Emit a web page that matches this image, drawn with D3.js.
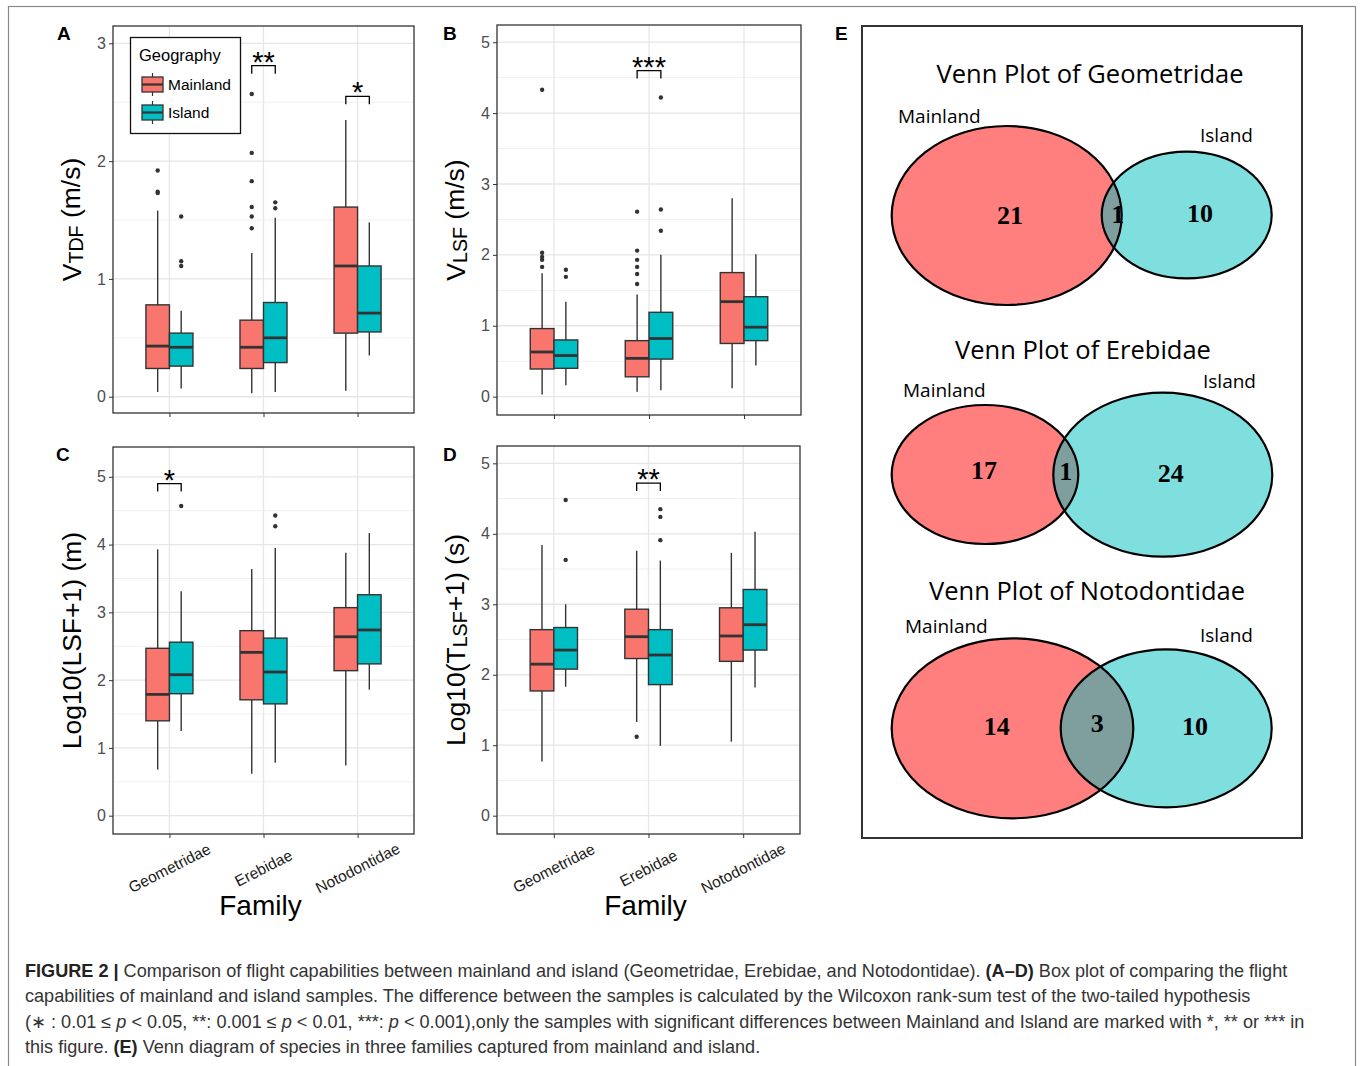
<!DOCTYPE html>
<html>
<head>
<meta charset="utf-8">
<script src="https://cdn.jsdelivr.net/npm/d3@7"></script>
<style>
  body { margin: 0; background: #fff; }
</style>
</head>
<body>
<svg id="fig" width="1360" height="1066" font-family="Liberation Sans, Arial, sans-serif"></svg>
<script>
var families = ["Geometridae", "Erebidae", "Notodontidae"];
var groups = ["Mainland", "Island"];
var groupColors = ["#F8766D", "#00BFC4"];

// box stats per family: [lower whisker, q1, median, q3, upper whisker]
var vtdfMainland = [[0.04, 0.24, 0.43, 0.78, 1.58], [0.03, 0.24, 0.42, 0.65, 1.22], [0.05, 0.54, 1.11, 1.61, 2.35]];
var vtdfIsland = [[0.07, 0.26, 0.42, 0.54, 0.73], [0.04, 0.29, 0.50, 0.80, 1.52], [0.35, 0.55, 0.71, 1.11, 1.48]];
var vtdfOutMainland = [[1.92, 1.74, 1.73], [2.57, 2.07, 1.83, 1.61, 1.53, 1.43], []];
var vtdfOutIsland = [[1.53, 1.15, 1.11], [1.65, 1.60], []];
var vtdfSig = [{family: "Erebidae", y: 2.81, label: "**"}, {family: "Notodontidae", y: 2.55, label: "*"}];

var vlsfMainland = [[0.03, 0.39, 0.63, 0.96, 1.74], [0.07, 0.28, 0.54, 0.79, 1.44], [0.12, 0.75, 1.34, 1.75, 2.80]];
var vlsfIsland = [[0.16, 0.40, 0.58, 0.80, 1.34], [0.09, 0.53, 0.82, 1.19, 2.00], [0.44, 0.79, 0.98, 1.41, 2.01]];
var vlsfOutMainland = [[4.33, 2.03, 1.97, 1.93, 1.83], [2.61, 2.06, 1.93, 1.83, 1.73, 1.59], []];
var vlsfOutIsland = [[1.79, 1.69], [4.22, 2.64, 2.34], []];
var vlsfSig = [{family: "Erebidae", y: 4.60, label: "***"}];

var lsfMainland = [[0.68, 1.40, 1.79, 2.47, 3.93], [0.62, 1.71, 2.41, 2.73, 3.64], [0.74, 2.14, 2.64, 3.07, 3.88]];
var lsfIsland = [[1.25, 1.80, 2.08, 2.56, 3.31], [0.78, 1.65, 2.12, 2.62, 3.95], [1.86, 2.24, 2.74, 3.26, 4.17]];
var lsfOutMainland = [[], [], []];
var lsfOutIsland = [[4.57], [4.43, 4.27], []];
var lsfSig = [{family: "Geometridae", y: 4.90, label: "*"}];

var tlsfMainland = [[0.77, 1.77, 2.15, 2.64, 3.84], [1.33, 2.23, 2.54, 2.93, 3.76], [1.05, 2.19, 2.55, 2.95, 3.73]];
var tlsfIsland = [[1.83, 2.08, 2.35, 2.67, 3.00], [0.99, 1.86, 2.28, 2.64, 3.62], [1.82, 2.35, 2.71, 3.21, 4.03]];
var tlsfOutMainland = [[], [1.12], []];
var tlsfOutIsland = [[4.48, 3.63], [4.35, 4.24, 3.91], []];
var tlsfSig = [{family: "Erebidae", y: 4.72, label: "**"}];

var vennTitles = ["Venn Plot of Geometridae", "Venn Plot of Erebidae", "Venn Plot of Notodontidae"];
var vennMainland = [21, 17, 14];
var vennShared = [1, 1, 3];
var vennIsland = [10, 24, 10];

var svg = d3.select("#fig");

// outer frame
svg.append("rect").attr("x", 8.5).attr("y", 6.5).attr("width", 1347).attr("height", 1100)
  .attr("fill", "none").attr("stroke", "#8a8a8a").attr("stroke-width", 1.2);

var panels = [
  {letter: "A", lx: 57, ly: 40, left: 113, right: 414, top: 26, bottom: 413, yDomain: [-0.138, 3.147], ticks: [0, 1, 2, 3],
   main: vtdfMainland, isl: vtdfIsland, outM: vtdfOutMainland, outI: vtdfOutIsland, sig: vtdfSig,
   title: ["V", "TDF", " (m/s)"], xlabels: false, legend: true},
  {letter: "B", lx: 443, ly: 40, left: 497, right: 801, top: 25, bottom: 415, yDomain: [-0.259, 5.243], ticks: [0, 1, 2, 3, 4, 5],
   main: vlsfMainland, isl: vlsfIsland, outM: vlsfOutMainland, outI: vlsfOutIsland, sig: vlsfSig,
   title: ["V", "LSF", " (m/s)"], xlabels: false},
  {letter: "C", lx: 56, ly: 461, left: 113, right: 414, top: 447, bottom: 834, yDomain: [-0.27, 5.44], ticks: [0, 1, 2, 3, 4, 5],
   main: lsfMainland, isl: lsfIsland, outM: lsfOutMainland, outI: lsfOutIsland, sig: lsfSig,
   title: ["Log10(LSF+1) (m)"], xlabels: true},
  {letter: "D", lx: 443, ly: 461, left: 497, right: 800, top: 446, bottom: 834, yDomain: [-0.26, 5.246], ticks: [0, 1, 2, 3, 4, 5],
   main: tlsfMainland, isl: tlsfIsland, outM: tlsfOutMainland, outI: tlsfOutIsland, sig: tlsfSig,
   title: ["Log10(T", "LSF", "+1) (s)"], xlabels: true}
];

panels.forEach(drawBoxPanel);

function drawBoxPanel(p) {
  var x = d3.scalePoint().domain(families).range([p.left, p.right]).padding(0.6);
  var y = d3.scaleLinear().domain(p.yDomain).range([p.bottom, p.top]);
  var step = x.step();
  var g = svg.append("g");

  g.append("text").attr("x", p.lx).attr("y", p.ly).attr("font-size", 19).attr("font-weight", "bold").text(p.letter);

  // grid
  var minor = p.ticks.map(function(t) { return t + 0.5; }).filter(function(t) { return t < p.yDomain[1]; });
  g.selectAll(".minor").data(minor).enter().append("line")
    .attr("x1", p.left).attr("x2", p.right).attr("y1", y).attr("y2", y)
    .attr("stroke", "#f0f0f0").attr("stroke-width", 1);
  g.selectAll(".major").data(p.ticks).enter().append("line")
    .attr("x1", p.left).attr("x2", p.right).attr("y1", y).attr("y2", y)
    .attr("stroke", "#e6e6e6").attr("stroke-width", 1.3);
  g.selectAll(".vgrid").data(families).enter().append("line")
    .attr("x1", x).attr("x2", x).attr("y1", p.top).attr("y2", p.bottom)
    .attr("stroke", "#e6e6e6").attr("stroke-width", 1.3);

  // axes
  var ya = g.append("g").attr("transform", "translate(" + p.left + ",0)")
    .call(d3.axisLeft(y).tickValues(p.ticks).tickFormat(d3.format("d")).tickSize(4).tickPadding(3));
  ya.select(".domain").remove();
  ya.selectAll("line").attr("stroke", "#333");
  ya.selectAll("text").attr("fill", "#4d4d4d").attr("font-size", 16).attr("font-family", "Liberation Sans, Arial, sans-serif");

  var xa = g.append("g").attr("transform", "translate(0," + p.bottom + ")")
    .call(d3.axisBottom(x).tickSize(4).tickFormat(""));
  xa.select(".domain").remove();
  xa.selectAll("line").attr("stroke", "#333");

  if (p.xlabels) {
    g.selectAll(".xl").data(families).enter().append("text")
      .attr("transform", function(d) { return "translate(" + x(d) + "," + (p.bottom + 34) + ") rotate(-27)"; })
      .attr("text-anchor", "middle").attr("dominant-baseline", "central")
      .attr("font-size", 15.5).attr("fill", "#1a1a1a").text(function(d) { return d; });
    g.append("text").attr("x", (p.left + p.right) / 2 - 3).attr("y", 915)
      .attr("text-anchor", "middle").attr("font-size", 28).text("Family");
  }

  // y title
  var t = g.append("text").attr("transform", "translate(" + (p.left - 32) + "," + ((p.top + p.bottom) / 2) + ") rotate(-90)")
    .attr("text-anchor", "middle").attr("font-size", 26.5);
  if (p.title.length === 1) {
    t.text(p.title[0]);
  } else {
    t.append("tspan").text(p.title[0]);
    t.append("tspan").attr("font-size", "0.74em").attr("dy", "0.1em").text(p.title[1]);
    t.append("tspan").attr("dy", "-0.1em").text(p.title[2]);
  }

  // boxes
  var half = 0.125 * step;
  [p.main, p.isl].forEach(function(stats, j) {
    var outs = j === 0 ? p.outM : p.outI;
    families.forEach(function(f, i) {
      var s = stats[i];
      var cx = x(f) + (j === 0 ? -half : half);
      g.append("line").attr("x1", cx).attr("x2", cx).attr("y1", y(s[0])).attr("y2", y(s[1]))
        .attr("stroke", "#333").attr("stroke-width", 1.4);
      g.append("line").attr("x1", cx).attr("x2", cx).attr("y1", y(s[3])).attr("y2", y(s[4]))
        .attr("stroke", "#333").attr("stroke-width", 1.4);
      g.append("rect").attr("x", cx - half).attr("width", 2 * half)
        .attr("y", y(s[3])).attr("height", y(s[1]) - y(s[3]))
        .attr("fill", groupColors[j]).attr("stroke", "#333").attr("stroke-width", 1.4);
      g.append("line").attr("x1", cx - half).attr("x2", cx + half).attr("y1", y(s[2])).attr("y2", y(s[2]))
        .attr("stroke", "#333").attr("stroke-width", 2.8);
      g.selectAll(null).data(outs[i]).enter().append("circle")
        .attr("cx", cx).attr("cy", y).attr("r", 2.2).attr("fill", "#333");
    });
  });

  // significance brackets
  p.sig.forEach(function(s) {
    var x1 = x(s.family) - half, x2 = x(s.family) + half, yy = y(s.y);
    g.append("path").attr("d", "M" + x1 + "," + (yy + 8) + "V" + yy + "H" + x2 + "V" + (yy + 8))
      .attr("fill", "none").attr("stroke", "#000").attr("stroke-width", 1.3);
    g.append("text").attr("x", (x1 + x2) / 2).attr("y", yy + 6).attr("text-anchor", "middle")
      .attr("font-size", 29).text(s.label);
  });

  // panel border
  g.append("rect").attr("x", p.left).attr("y", p.top).attr("width", p.right - p.left).attr("height", p.bottom - p.top)
    .attr("fill", "none").attr("stroke", "#333").attr("stroke-width", 1.3);

  if (p.legend) {
    var lg = g.append("g");
    lg.append("rect").attr("x", 130.5).attr("y", 37.5).attr("width", 110).attr("height", 96)
      .attr("fill", "#fff").attr("stroke", "#111").attr("stroke-width", 1.3);
    lg.append("text").attr("x", 139).attr("y", 61).attr("font-size", 16.5).text("Geography");
    groups.forEach(function(gr, j) {
      var ky = 77 + j * 28;
      lg.append("line").attr("x1", 152.5).attr("x2", 152.5).attr("y1", ky - 4).attr("y2", ky + 19)
        .attr("stroke", "#333").attr("stroke-width", 1.2);
      lg.append("rect").attr("x", 142).attr("y", ky).attr("width", 21).attr("height", 15)
        .attr("fill", groupColors[j]).attr("stroke", "#333").attr("stroke-width", 1.3);
      lg.append("line").attr("x1", 142).attr("x2", 163).attr("y1", ky + 7.5).attr("y2", ky + 7.5)
        .attr("stroke", "#333").attr("stroke-width", 2.2);
      lg.append("text").attr("x", 168).attr("y", ky + 13).attr("font-size", 15.5).text(gr);
    });
  }
}

// Venn panel E (local units, box 440 x 812)
var vx = d3.scaleLinear().domain([0, 440]).range([862, 1302]);
var vy = d3.scaleLinear().domain([0, 812]).range([26, 838]);
var vennTitlePos = [[228, 57], [221, 333], [225, 574]];
var vennLabelPos = [[[36, 97], [338, 116]], [[41, 371], [341, 362]], [[43, 607], [338, 616]]];
var vennEllipses = [
  [[144.7, 189.5, 115, 89.5], [324.7, 189, 85, 63.3]],
  [[123, 448.5, 93.3, 69.5], [300.8, 448.7, 109.5, 82]],
  [[150.5, 702.3, 120.8, 90], [304.2, 702.3, 105.5, 79]]
];
var vennNumPos = [
  [[148, 189], [255.7, 188], [338, 187]],
  [[122, 444], [203.7, 445.7], [308.7, 447.3]],
  [[134.7, 700], [235.3, 697.3], [333, 700]]
];
var vennFill = ["rgba(255,0,0,0.5)", "rgba(0,192,192,0.5)"];

svg.append("text").attr("x", 835).attr("y", 40).attr("font-size", 19).attr("font-weight", "bold").text("E");
svg.append("rect").attr("x", vx(0)).attr("y", vy(0)).attr("width", vx(440) - vx(0)).attr("height", vy(812) - vy(0))
  .attr("fill", "none").attr("stroke", "#333").attr("stroke-width", 2);

vennTitles.forEach(function(title, k) {
  var g = svg.append("g");
  g.append("text").attr("x", vx(vennTitlePos[k][0])).attr("y", vy(vennTitlePos[k][1]))
    .attr("text-anchor", "middle").attr("font-size", 25.5).attr("font-family", "Open Sans, sans-serif").text(title);
  vennEllipses[k].forEach(function(e, j) {
    g.append("ellipse").attr("cx", vx(e[0])).attr("cy", vy(e[1]))
      .attr("rx", vx(e[2]) - vx(0)).attr("ry", vy(e[3]) - vy(0)).attr("fill", vennFill[j]);
  });
  vennEllipses[k].forEach(function(e) {
    g.append("ellipse").attr("cx", vx(e[0])).attr("cy", vy(e[1]))
      .attr("rx", vx(e[2]) - vx(0)).attr("ry", vy(e[3]) - vy(0))
      .attr("fill", "none").attr("stroke", "#000").attr("stroke-width", 2.2);
  });
  groups.forEach(function(gr, j) {
    g.append("text").attr("x", vx(vennLabelPos[k][j][0])).attr("y", vy(vennLabelPos[k][j][1]))
      .attr("font-size", 19).attr("font-family", "Open Sans, sans-serif").text(gr);
  });
  var nums = [vennMainland[k], vennShared[k], vennIsland[k]];
  nums.forEach(function(n, j) {
    g.append("text").attr("x", vx(vennNumPos[k][j][0])).attr("y", vy(vennNumPos[k][j][1]))
      .attr("text-anchor", "middle").attr("dominant-baseline", "central")
      .attr("font-size", 26).attr("font-weight", "bold").attr("font-family", "Liberation Serif, serif").text(n);
  });
});

// caption
var cap = svg.append("text").attr("x", 25).attr("y", 977).attr("font-size", 18.1).attr("fill", "#333");
var l1 = cap.append("tspan").attr("x", 25);
l1.append("tspan").attr("font-weight", "bold").attr("fill", "#222").text("FIGURE 2 | ");
l1.append("tspan").text("Comparison of flight capabilities between mainland and island (Geometridae, Erebidae, and Notodontidae). ");
l1.append("tspan").attr("font-weight", "bold").attr("fill", "#222").text("(A–D)");
l1.append("tspan").text(" Box plot of comparing the flight");
cap.append("tspan").attr("x", 25).attr("dy", 25.3)
  .text("capabilities of mainland and island samples. The difference between the samples is calculated by the Wilcoxon rank-sum test of the two-tailed hypothesis");
var l3 = cap.append("tspan").attr("x", 25).attr("dy", 25.3);
l3.append("tspan").text("(∗ : 0.01 ≤ ");
l3.append("tspan").attr("font-style", "italic").text("p");
l3.append("tspan").text(" < 0.05, **: 0.001 ≤ ");
l3.append("tspan").attr("font-style", "italic").text("p");
l3.append("tspan").text(" < 0.01, ***: ");
l3.append("tspan").attr("font-style", "italic").text("p");
l3.append("tspan").text(" < 0.001),only the samples with significant differences between Mainland and Island are marked with *, ** or *** in");
var l4 = cap.append("tspan").attr("x", 25).attr("dy", 25.3);
l4.append("tspan").text("this figure. ");
l4.append("tspan").attr("font-weight", "bold").attr("fill", "#222").text("(E)");
l4.append("tspan").text(" Venn diagram of species in three families captured from mainland and island.");
</script>
</body>
</html>
